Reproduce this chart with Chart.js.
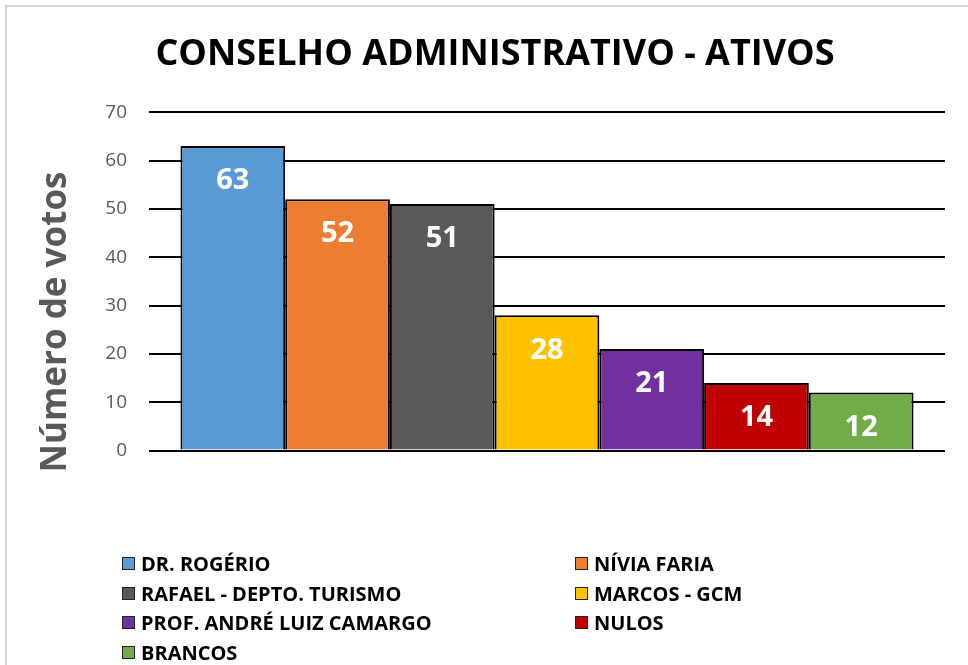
<!DOCTYPE html>
<html>
<head>
<meta charset="utf-8">
<script src="https://cdn.jsdelivr.net/npm/chart.js@4"></script>
<style>
  body { margin: 0; background: #fff; }
  #page { position: relative; width: 968px; height: 665px; overflow: hidden; font-family: "Open Sans", sans-serif; }
  #frame { position: absolute; left: 5px; top: 5px; width: 990px; height: 700px; border: 2px solid #d4d4d4; box-sizing: border-box; }
  #box { position: absolute; left: 0; top: 0; width: 968px; height: 484px; }
  #legend { position: absolute; left: 0; top: 0; width: 968px; height: 665px; pointer-events: none; }
  .item { position: absolute; height: 20px; display: flex; align-items: center; font-weight: bold; font-size: 20px; color: #000; white-space: nowrap; }
  .item span.sw { width: 11px; height: 11px; border: 1.5px solid #222; margin-right: 6px; }
</style>
</head>
<body>
<div id="page">
  <div id="frame"></div>
  <div id="box"><canvas id="votosChart"></canvas></div>
  <div id="legend"></div>
</div>
<script>
// dados do grafico
var candidatos = ['DR. ROGÉRIO', 'NÍVIA FARIA', 'RAFAEL - DEPTO. TURISMO', 'MARCOS - GCM', 'PROF. ANDRÉ LUIZ CAMARGO', 'NULOS', 'BRANCOS'];
var votos = [63, 52, 51, 28, 21, 14, 12];
var cores = ['#5B9BD5', '#ED7D31', '#595959', '#FFC000', '#7030A0', '#C00000', '#70AD47'];
var yTicks = [0, 10, 20, 30, 40, 50, 60, 70];

var datasets = candidatos.map(function (nome, i) {
    return {
        label: nome,
        data: [votos[i]],
        backgroundColor: cores[i],
        borderColor: '#000',
        borderWidth: 2,
        categoryPercentage: 0.921,
        barPercentage: 1
    };
});

// rotulos brancos dentro das barras
var valoresPlugin = {
    id: 'valores',
    afterDatasetsDraw: function (chart) {
        var ctx = chart.ctx;
        ctx.save();
        ctx.fillStyle = '#fff';
        ctx.font = 'bold 29px "Open Sans"';
        ctx.textAlign = 'center';
        ctx.textBaseline = 'middle';
        chart.data.datasets.forEach(function (ds, i) {
            var bar = chart.getDatasetMeta(i).data[0];
            ctx.fillText(ds.data[0], bar.x, bar.y + 35);
        });
        ctx.restore();
    }
};

// titulo do eixo Y (centralizado mais abaixo, como no original)
var eixoPlugin = {
    id: 'eixoTitulo',
    afterDraw: function (chart) {
        var ctx = chart.ctx;
        ctx.save();
        ctx.translate(56, 322);
        ctx.rotate(-Math.PI / 2);
        ctx.fillStyle = '#595959';
        ctx.font = 'bold 35px "Open Sans"';
        ctx.textAlign = 'center';
        ctx.textBaseline = 'middle';
        ctx.fillText('Número de votos', 0, 0);
        ctx.restore();
    }
};

var ctx = document.getElementById('votosChart').getContext('2d');
var chart = new Chart(ctx, {
    type: 'bar',
    data: { labels: [''], datasets: datasets },
    plugins: [valoresPlugin, eixoPlugin],
    options: {
        responsive: true,
        maintainAspectRatio: false,
        animation: false,
        layout: { padding: { left: 45, right: 23, top: 0, bottom: 6 } },
        plugins: {
            legend: { display: false },
            tooltip: { enabled: false },
            title: {
                display: true,
                text: 'CONSELHO ADMINISTRATIVO - ATIVOS',
                color: '#000',
                font: { family: 'Open Sans', size: 36, weight: 'bold' },
                padding: { top: 33, bottom: 36 }
            }
        },
        scales: {
            x: { display: false },
            y: {
                min: 0,
                max: 70,
                afterFit: function (s) { s.width = 104; },
                afterBuildTicks: function (s) { s.ticks = yTicks.map(function (v) { return { value: v }; }); },
                border: { display: false },
                grid: { color: '#000', lineWidth: 2, drawTicks: false },
                ticks: {
                    color: '#595959',
                    padding: 22,
                    font: { family: 'Open Sans', size: 19 }
                }
            }
        }
    }
});

// legenda em duas colunas
var leg = document.getElementById('legend');
var colX = [122, 575];
var rowY = [553, 583, 612, 642];
candidatos.forEach(function (nome, i) {
    var d = document.createElement('div');
    d.className = 'item';
    d.style.left = colX[i % 2] + 'px';
    d.style.top = rowY[Math.floor(i / 2)] + 'px';
    d.innerHTML = '<span class="sw" style="background:' + cores[i] + '"></span>' + nome;
    leg.appendChild(d);
});
</script>
</body>
</html>
